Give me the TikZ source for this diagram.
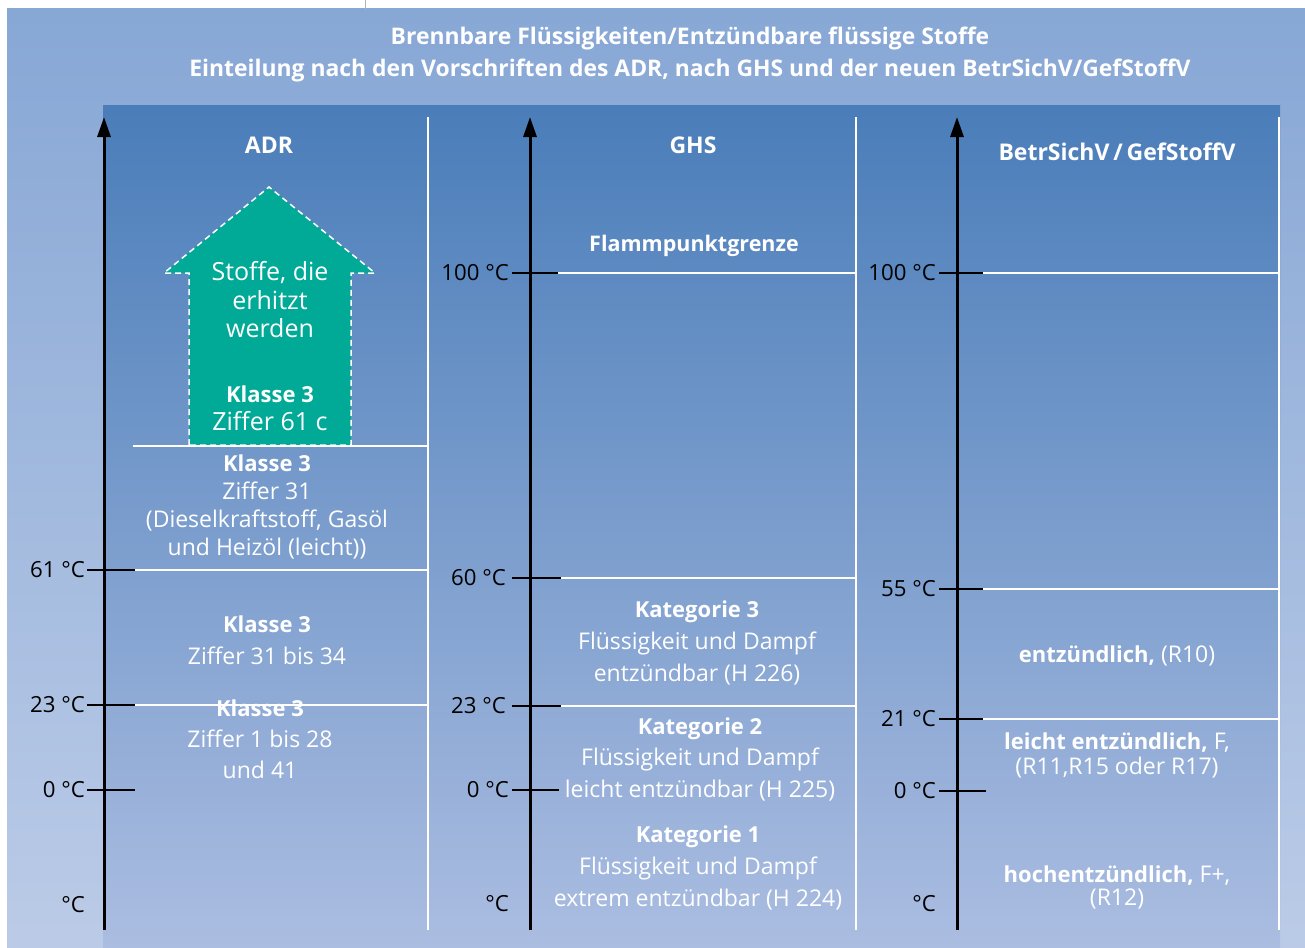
\documentclass[tikz,border=0pt]{standalone}
\usepackage{fontspec}
\setmainfont{Open Sans}
\usetikzlibrary{arrows.meta}
\definecolor{outerTop}{HTML}{87A7D5}
\definecolor{outerBot}{HTML}{BBCBE7}
\definecolor{innerTop}{HTML}{4A7DB9}
\definecolor{innerBot}{HTML}{ABBDE1}
\definecolor{arrowGreen}{HTML}{00AA96}
\newcommand\bx[1]{{\bfseries\fontsize{22}{31}\selectfont #1}}
\tikzset{
  axisline/.style={line width=3pt, -{Triangle[length=20pt,width=13pt]}},
  tickline/.style={line width=2.5pt},
  divider/.style={white, line width=2.2pt},
  sepline/.style={white, line width=1.8pt},
  lab/.style={anchor=east, inner sep=0pt, text=black, font=\fontsize{22.2}{25}\selectfont},
  wtxt/.style={text=white, align=center, inner sep=0pt, font=\fontsize{23}{31}\selectfont},
  btxt/.style={text=white, align=center, inner sep=0pt, font=\bfseries\fontsize{23}{31}\selectfont},
}
\begin{document}
\begin{tikzpicture}[x=1pt,y=-1pt]
\useasboundingbox (0,0) rectangle (1305,947);
\fill[white] (0,0) rectangle (1305,947);
\shade[top color=outerTop,bottom color=outerBot] (7,9) rectangle (1305,947);
\draw[gray!60, line width=1pt] (365,0) -- (365,9);
\shade[top color=innerTop,bottom color=innerBot] (103,106) rectangle (1280,947);

% title
\node[btxt, font=\bfseries\fontsize{22.9}{32}\selectfont] (title) at (690,54) {Brennbare Flüssigkeiten/Entzündbare flüssige Stoffe\\Einteilung nach den Vorschriften des ADR, nach GHS und der neuen BetrSichV/GefStoffV};

% dividers
\coordinate (d1t) at (428,117); \coordinate (d1b) at (428,930);
\coordinate (d2t) at (856,117); \coordinate (d2b) at (856,930);
\coordinate (d3t) at (1279,117); \coordinate (d3b) at (1279,930);
\draw[divider] (d1t) -- (d1b);
\draw[divider] (d2t) -- (d2b);
\draw[divider] (d3t) -- (d3b);

% green arrow
\fill[arrowGreen] (189,445) -- (189,273) -- (164,273) -- (269,187) -- (375,273) -- (351,273) -- (351,445) -- cycle;
\draw[white, line width=1.5pt, dash pattern=on 6pt off 4pt] (189,445) -- (189,273) -- (164,273) -- (269,187) -- (375,273) -- (351,273) -- (351,445) -- cycle;
\node[wtxt, font=\fontsize{25}{28.5}\selectfont] (stoffe) at (270,300) {Stoffe, die\\erhitzt\\werden};
\node[wtxt, font=\fontsize{25}{28}\selectfont] (k61) at (270,408) {\bx{Klasse 3}\\Ziffer 61 c};

% ADR separators
\coordinate (s1a) at (133,446); \coordinate (s1b) at (428,446);
\coordinate (s2a) at (135,570); \coordinate (s2b) at (428,570);
\coordinate (s3a) at (135,705); \coordinate (s3b) at (428,705);
\draw[sepline] (s1a) -- (s1b);
\draw[sepline] (s2a) -- (s2b);
\draw[sepline] (s3a) -- (s3b);

% ADR axis
\coordinate (a1b) at (104,930); \coordinate (a1t) at (104,117);
\draw[axisline] (a1b) -- (a1t);
\node[btxt] (adr) at (269,145) {ADR};
\foreach \yy/\tt in {570/61, 705/23, 790/0}{
  \draw[tickline] (87,\yy) -- (135,\yy);
  \node[lab] at (85,\yy) {\tt{} °C};
}
\node[lab] (adrC) at (85,905) {°C};

\node[wtxt, font=\fontsize{23}{27.7}\selectfont] (adr2) at (267,507) {\bx{Klasse 3}\\Ziffer 31\\(Dieselkraftstoff, Gasöl\\und Heizöl (leicht))};
\node[wtxt, font=\fontsize{23}{32}\selectfont] (adr3) at (267,640) {\bx{Klasse 3}\\Ziffer 31 bis 34};
\node[wtxt, font=\fontsize{23}{31}\selectfont] (adr4) at (260,739) {\bx{Klasse 3}\\Ziffer 1 bis 28\\und 41};

% GHS
\coordinate (a2b) at (530,930); \coordinate (a2t) at (530,117);
\draw[axisline] (a2b) -- (a2t);
\node[btxt] (ghs) at (693,145) {GHS};
\node[btxt, font=\bfseries\fontsize{21.5}{31}\selectfont] (flamm) at (694,246) {Flammpunktgrenze};
\draw[tickline] (512,273) -- (558,273);
\draw[sepline] (558,273) -- (856,273);
\node[lab] at (509,273) {100 °C};
\draw[tickline] (512,578) -- (561,578);
\draw[sepline] (561,578) -- (856,578);
\node[lab] at (506,578) {60 °C};
\draw[tickline] (512,706) -- (561,706);
\draw[sepline] (561,706) -- (856,706);
\node[lab] at (506,706) {23 °C};
\draw[tickline] (512,790) -- (559,790);
\node[lab] at (509,790) {0 °C};
\node[lab] (ghsC) at (509,904) {°C};
\node[wtxt, font=\fontsize{23}{32}\selectfont] (k3) at (697,643) {\bx{Kategorie 3}\\Flüssigkeit und Dampf\\entzündbar (H 226)};
\node[wtxt, font=\fontsize{23}{31.5}\selectfont] (k2) at (700,759) {\bx{Kategorie 2}\\Flüssigkeit und Dampf\\leicht entzündbar (H 225)};
\node[wtxt, font=\fontsize{23}{32}\selectfont] (k1) at (698,868) {\bx{Kategorie 1}\\Flüssigkeit und Dampf\\extrem entzündbar (H 224)};

% BetrSichV
\coordinate (a3b) at (957,930); \coordinate (a3t) at (957,117);
\draw[axisline] (a3b) -- (a3t);
\node[btxt] (betr) at (1117,152) {BetrSichV\,/\,GefStoffV};
\draw[tickline] (939,273) -- (983,273);
\draw[sepline] (983,273) -- (1279,273);
\node[lab] at (936,273) {100 °C};
\draw[tickline] (939,589) -- (983,589);
\draw[sepline] (983,589) -- (1279,589);
\node[lab] at (936,589) {55 °C};
\draw[tickline] (939,719) -- (983,719);
\draw[sepline] (983,719) -- (1279,719);
\node[lab] at (936,719) {21 °C};
\draw[tickline] (939,791) -- (986,791);
\node[lab] at (936,791) {0 °C};
\node[lab] (betrC) at (936,904) {°C};
\node[wtxt] (r10) at (1117,656) {\bx{entzündlich,} (R10)};
\node[wtxt, font=\fontsize{23}{25}\selectfont] (r11) at (1117,755) {\bx{leicht entzündlich,} F,\\(R11,R15 oder R17)};
\node[wtxt, font=\fontsize{23}{23}\selectfont] (r12) at (1117,887) {\bx{hochentzündlich,} F+,\\(R12)};
\end{tikzpicture}
\end{document}
